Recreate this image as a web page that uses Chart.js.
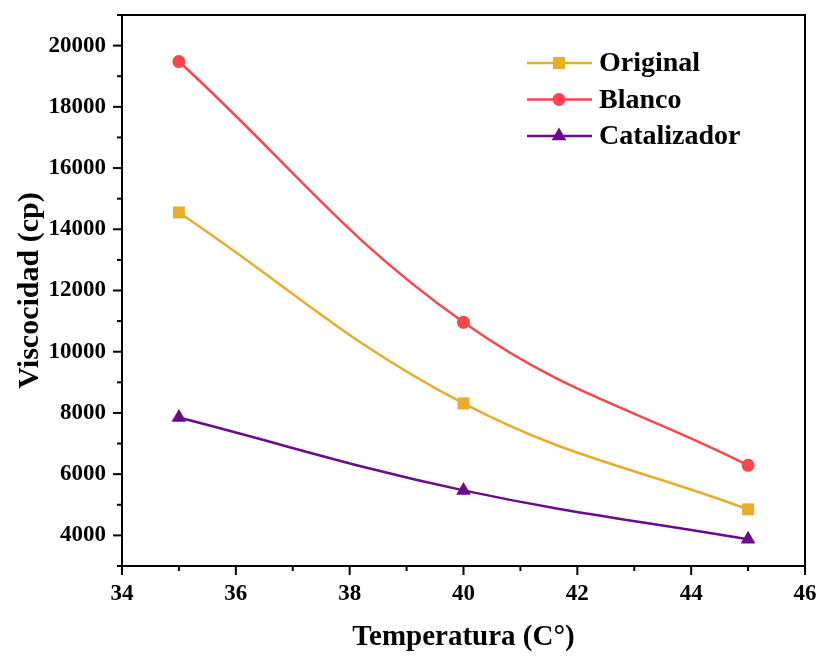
<!DOCTYPE html>
<html>
<head>
<meta charset="utf-8">
<script src="https://cdn.jsdelivr.net/npm/chart.js@4"></script>
<style>
  html, body { margin: 0; padding: 0; background: #fff; }
  #wrap { width: 821px; height: 657px; }
</style>
</head>
<body>
<div id="wrap"><canvas id="chart" width="821" height="657"></canvas></div>
<script>
const temps = [35, 40, 45];
const original = [14550, 8310, 4850];
const blanco = [19480, 10960, 6290];
const catalizador = [7850, 5470, 3870];

const colOriginal = "#E8AD2A";
const colBlanco = "#F8474A";
const colCatal = "#6B0A8C";

const serif = "'Liberation Serif', 'Times New Roman', serif";

const toPoints = (vals) => temps.map((t, i) => ({ x: t, y: vals[i] }));

// frame, tick marks and the legend inside the plot
const framePlugin = {
  id: "frame",
  afterDraw(chart) {
    const ctx = chart.ctx;
    const a = chart.chartArea;
    ctx.save();
    ctx.strokeStyle = "#000";
    ctx.lineWidth = 2;
    ctx.strokeRect(a.left, a.top, a.right - a.left, a.bottom - a.top);

    // ticks on the left and bottom axes
    const xs = chart.scales.x;
    const ys = chart.scales.y;
    ctx.lineWidth = 2;
    ys.ticks.forEach((t) => {
      const y = ys.getPixelForValue(t.value);
      const len = t.value % 2000 === 0 ? 9 : 5;
      ctx.beginPath();
      ctx.moveTo(a.left, y);
      ctx.lineTo(a.left - len, y);
      ctx.stroke();
    });
    xs.ticks.forEach((t) => {
      const x = xs.getPixelForValue(t.value);
      const len = t.value % 2 === 0 ? 9 : 5;
      ctx.beginPath();
      ctx.moveTo(x, a.bottom);
      ctx.lineTo(x, a.bottom + len);
      ctx.stroke();
    });

    // legend
    const rows = [0, 1, 2];
    ctx.font = "bold 28px " + serif;
    ctx.textBaseline = "middle";
    rows.forEach((i) => {
      const ds = chart.data.datasets[i];
      const y = 63 + i * 36.5;
      ctx.strokeStyle = ds.borderColor;
      ctx.lineWidth = 2.5;
      ctx.beginPath();
      ctx.moveTo(527, y);
      ctx.lineTo(592, y);
      ctx.stroke();
      ctx.fillStyle = ds.backgroundColor;
      Chart.helpers.drawPoint(ctx, {
        pointStyle: ds.pointStyle,
        radius: ds.pointRadius,
        rotation: 0,
        borderWidth: 0,
      }, 559, y);
      ctx.fillStyle = "#000";
      ctx.fillText(ds.label, 599, y + 1);
    });
    ctx.restore();
  },
};

new Chart(document.getElementById("chart"), {
  type: "line",
  data: {
    datasets: [
      {
        label: "Original",
        data: toPoints(original),
        borderColor: colOriginal,
        backgroundColor: colOriginal,
        pointStyle: "rect",
        pointRadius: 8.5,
      },
      {
        label: "Blanco",
        data: toPoints(blanco),
        borderColor: colBlanco,
        backgroundColor: colBlanco,
        pointStyle: "circle",
        pointRadius: 6.5,
      },
      {
        label: "Catalizador",
        data: toPoints(catalizador),
        borderColor: colCatal,
        backgroundColor: colCatal,
        pointStyle: "triangle",
        pointRadius: 8.5,
      },
    ],
  },
  options: {
    responsive: false,
    animation: false,
    layout: { padding: { left: 10, right: 16, top: 15, bottom: 0 } },
    elements: {
      line: { borderWidth: 2.5, tension: 0.4 },
      point: { borderWidth: 0 },
    },
    plugins: {
      legend: { display: false },
      tooltip: { enabled: false },
    },
    scales: {
      x: {
        type: "linear",
        min: 34,
        max: 46,
        afterFit(scale) {
          scale.height = 91;
          scale.paddingLeft = 0;
          scale.paddingRight = 0;
        },
        border: { display: false },
        grid: { display: false, drawTicks: false },
        ticks: {
          stepSize: 1,
          padding: 14,
          maxRotation: 0,
          autoSkip: false,
          color: "#000",
          font: { family: serif, size: 23, weight: "bold" },
          callback: (v) => (v % 2 === 0 ? v : ""),
        },
        title: {
          display: true,
          text: "Temperatura (C°)",
          color: "#000",
          font: { family: serif, size: 29, weight: "bold" },
          padding: { top: 4, bottom: 2 },
        },
      },
      y: {
        min: 3000,
        max: 21000,
        afterFit(scale) {
          scale.width = 112;
          scale.paddingTop = 0;
          scale.paddingBottom = 0;
        },
        border: { display: false },
        grid: { display: false, drawTicks: false },
        ticks: {
          stepSize: 1000,
          padding: 16,
          autoSkip: false,
          color: "#000",
          font: { family: serif, size: 23, weight: "bold" },
          callback: (v) => (v % 2000 === 0 ? v : ""),
        },
        title: {
          display: true,
          text: "Viscocidad (cp)",
          color: "#000",
          font: { family: serif, size: 30, weight: "bold" },
          padding: { top: 2, bottom: 4 },
        },
      },
    },
  },
  plugins: [framePlugin],
});
</script>
</body>
</html>
